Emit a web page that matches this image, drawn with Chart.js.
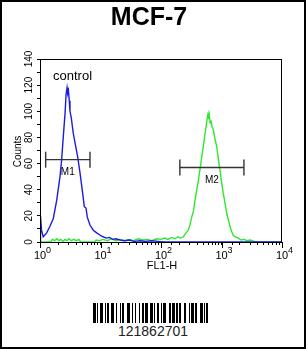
<!DOCTYPE html>
<html>
<head>
<meta charset="utf-8">
<script src="https://cdn.jsdelivr.net/npm/chart.js@4.4.0/dist/chart.umd.min.js"></script>
<style>
	html, body { margin: 0; padding: 0; background: #fff; }
	#frame { position: relative; width: 306px; height: 349px; overflow: hidden; background: #fff; }
	#frame::after { content: ""; position: absolute; left: 0; top: 0; right: 0; bottom: 0; border: 2px solid #000; pointer-events: none; }
	#chart { position: absolute; left: 0; top: 0; }
	#barcode { position: absolute; left: 93px; top: 303px; height: 20px; display: flex; }
	#barcode span { display: block; height: 100%; }
	#barcode-num { position: absolute; left: 0; width: 306px; top: 323px; text-align: center; font: 14px "Liberation Sans", Arial, sans-serif; color: #222; }
</style>
</head>
<body>
<div id="frame">
	<canvas id="chart" width="306" height="290"></canvas>
	<div id="barcode"></div>
	<div id="barcode-num">121862701</div>
</div>
<script>
const controleX = [1.0, 1.02, 1.06, 1.13, 1.29, 1.46, 1.66, 1.89, 2.14, 2.28, 2.43, 2.59, 2.7, 2.8, 2.87, 2.95, 3.05, 3.13, 3.29, 3.55, 3.9, 4.2, 4.58, 5.08, 5.4, 5.76, 6.05, 6.7, 7.6, 8.65, 10, 11, 12.5, 14, 16, 18, 21, 25, 30, 36, 45, 55, 70, 90, 110, 10000];
const controleY = [0, 20, 9, 4, 7, 12, 18, 32, 50, 63, 81, 98, 113, 118, 114, 116, 108, 100, 95, 83, 73, 65, 53, 37, 27, 26, 19, 13, 9, 7, 5, 4, 3, 3.5, 2, 2.5, 1.5, 1, 1.5, 0.5, 1, 0.5, 1, 0.5, 0, 0];

const amostraX = [1.0, 1.5, 1.6, 1.75, 1.9, 2.05, 2.2, 2.4, 2.6, 2.8, 3.0, 3.3, 3.6, 4.0, 4.4, 4.7, 8, 8.5, 9.5, 11, 13, 15, 18, 21, 25, 30, 35, 42, 50, 60, 70, 85, 100, 115, 130, 150, 170, 190, 210, 234, 260, 283, 300, 322, 345, 365, 390, 414, 440, 471, 500, 534, 560, 582, 600, 615, 629, 650, 670, 700, 731, 780, 833, 890, 945, 1000, 1071, 1150, 1219, 1300, 1381, 1470, 1567, 1700, 1896, 2100, 2400, 2611, 3000, 3500, 4000, 10000];
const amostraY = [0, 0, 2, 1, 2.5, 1, 2, 0.5, 2, 1, 2.5, 1, 2, 1, 2, 0, 0, 1.5, 1, 2, 1, 2.5, 1, 2, 1, 2, 1, 2.5, 1.5, 2, 1, 2.5, 2, 3, 2, 3.5, 2.5, 4, 3, 4, 7, 9, 13, 19, 24, 32, 40, 47, 55, 65, 73, 83, 89, 95, 98, 94, 97, 91, 93, 88, 86, 79, 73, 63, 55, 46, 37, 29, 22, 17, 12, 8, 5, 4, 3, 1.5, 2, 1, 1.5, 0.5, 0, 0];

// Marcadores M1 e M2 (intervalo em FL1-H e altura em contagens)
const marcadores = ["M1", "M2"];
const marcadorInicio = [1.24, 205];
const marcadorFim = [6.7, 2350];
const marcadorNivel = [63, 57];

// Ticks
const ticksY = [0, 20, 40, 60, 80, 100, 120, 140];
const decadas = [1, 10, 100, 1000, 10000];
const expoentes = ["0", "1", "2", "3", "4"];

const fonte = '"Liberation Sans", Arial, sans-serif';

const pontos = (xs, ys) => xs.map((x, i) => ({ x, y: ys[i] }));

const datasetsMarcadores = marcadores.map((nome, i) => ({
	label: nome,
	data: [
		{ x: marcadorInicio[i], y: marcadorNivel[i] },
		{ x: marcadorFim[i], y: marcadorNivel[i] },
	],
	borderColor: "#333",
	borderWidth: 1.4,
	pointStyle: "line",
	rotation: 90,
	pointRadius: 8,
	pointBorderColor: "#333",
	pointBorderWidth: 1.4,
	order: 0,
}));

// Plugin para moldura, textos e ticks de década
const decoracao = {
	id: "decoracao",
	afterDraw(chart) {
		const { ctx, chartArea: a, scales } = chart;
		const x = scales.x;
		const y = scales.y;
		ctx.save();

		// moldura da área do gráfico
		ctx.strokeStyle = "#000";
		ctx.lineWidth = 1;
		ctx.strokeRect(a.left + 0.5, a.top + 0.5, a.right - a.left - 1, a.bottom - a.top);

		// ticks maiores nas décadas
		ctx.beginPath();
		decadas.forEach((d) => {
			const px = Math.round(x.getPixelForValue(d)) + 0.5;
			ctx.moveTo(px, a.bottom);
			ctx.lineTo(px, a.bottom + 6);
		});
		ctx.stroke();

		ctx.fillStyle = "#000";

		// título
		ctx.font = "bold 25px " + fonte;
		ctx.textAlign = "center";
		ctx.textBaseline = "alphabetic";
		ctx.fillText("MCF-7", 149, 25);

		// rótulos do eixo x (10 elevado)
		decadas.forEach((d, i) => {
			const px = x.getPixelForValue(d);
			ctx.font = "11px " + fonte;
			ctx.textAlign = "center";
			ctx.fillText("10", px, a.bottom + 17);
			ctx.font = "9px " + fonte;
			ctx.textAlign = "left";
			ctx.fillText(expoentes[i], px + 6, a.bottom + 11);
		});
		ctx.font = "11px " + fonte;
		ctx.textAlign = "center";
		ctx.fillText("FL1-H", (a.left + a.right) / 2 + 1, a.bottom + 27);

		// rótulos do eixo y (rotacionados)
		ctx.textBaseline = "middle";
		ticksY.forEach((v) => {
			ctx.save();
			ctx.translate(29.5, y.getPixelForValue(v));
			ctx.rotate(-Math.PI / 2);
			ctx.font = "10px " + fonte;
			ctx.fillText(String(v), 0, 0);
			ctx.restore();
		});
		ctx.save();
		ctx.translate(18, (a.top + a.bottom) / 2 + 1);
		ctx.rotate(-Math.PI / 2);
		ctx.font = "10px " + fonte;
		ctx.fillText("Counts", 0, 0);
		ctx.restore();

		// legenda "control"
		ctx.textAlign = "left";
		ctx.textBaseline = "alphabetic";
		ctx.font = "13px " + fonte;
		ctx.fillText("control", a.left + 13, a.top + 21);

		// nomes dos marcadores
		ctx.font = "10px " + fonte;
		ctx.textAlign = "center";
		ctx.textBaseline = "middle";
		marcadores.forEach((nome, i) => {
			const px = (x.getPixelForValue(marcadorInicio[i]) + x.getPixelForValue(marcadorFim[i])) / 2;
			ctx.fillText(nome, px, y.getPixelForValue(marcadorNivel[i]) + 13);
		});

		ctx.restore();
	},
};

const ctx = document.getElementById("chart").getContext("2d");
new Chart(ctx, {
	type: "line",
	data: {
		datasets: [
			...datasetsMarcadores,
			{
				label: "control",
				data: pontos(controleX, controleY),
				borderColor: "#1c1ce0",
				borderWidth: 1.4,
				pointRadius: 0,
				tension: 0,
				order: 1,
			},
			{
				label: "MCF-7",
				data: pontos(amostraX, amostraY),
				borderColor: "#2ee82e",
				borderWidth: 1.4,
				pointRadius: 0,
				tension: 0,
				order: 2,
			},
		],
	},
	options: {
		responsive: false,
		animation: false,
		layout: { padding: { top: 59, right: 24, left: 0, bottom: 0 } },
		plugins: { legend: { display: false }, tooltip: { enabled: false } },
		scales: {
			x: {
				type: "logarithmic",
				min: 1,
				max: 10000,
				border: { display: false },
				grid: { drawOnChartArea: false, drawTicks: true, tickLength: 3, color: "#000" },
				ticks: { display: false, autoSkip: false },
				afterFit: (scale) => { scale.height = 48; },
			},
			y: {
				min: 0,
				max: 140,
				border: { display: false },
				grid: { drawOnChartArea: false, drawTicks: true, tickLength: 3, color: "#000" },
				ticks: { display: false, stepSize: 10 },
				afterFit: (scale) => { scale.width = 40; },
			},
		},
	},
	plugins: [decoracao],
});

// Código de barras (larguras alternadas barra/espaço)
const barras = "311232112232131123321213122132311222113321312123231131" + "2331112";
const barcode = document.getElementById("barcode");
barras.split("").forEach((w, i) => {
	const s = document.createElement("span");
	s.style.width = w + "px";
	s.style.background = i % 2 === 0 ? "#000" : "#fff";
	barcode.appendChild(s);
});
</script>
</body>
</html>
